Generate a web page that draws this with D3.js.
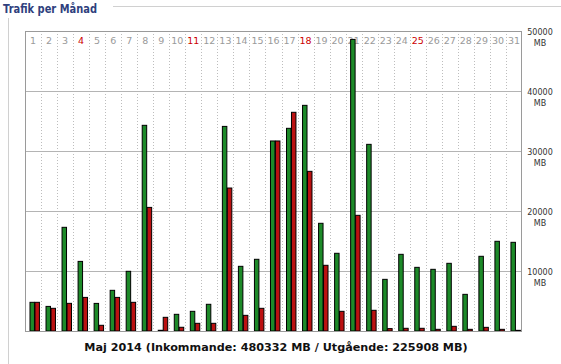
<!DOCTYPE html>
<html><head><meta charset="utf-8">
<script src="https://cdn.jsdelivr.net/npm/d3@7/dist/d3.min.js"></script>
<style>
html,body{margin:0;padding:0;background:#fff;}
svg{display:block;}
</style></head>
<body>
<script>
const days = d3.range(1, 32);
const redDays = [4, 11, 18, 25];
const incoming = [4780,4100,17280,11600,4600,6780,9950,34280,120,2780,3280,4450,34100,10780,11950,31670,33780,37610,17950,12950,48600,31110,8610,12780,10610,10280,11280,6110,12450,14950,14780];
const outgoing = [4780,3780,4610,5600,950,5600,4780,20600,2280,620,1280,1280,23830,2610,3780,31670,36450,26610,10950,3280,19280,3450,400,450,450,280,780,280,610,280,110];
const yTicks = [10000,20000,30000,40000,50000];
const title = "Trafik per Månad";
const caption = "Maj 2014 (Inkommande: 480332 MB / Utgående: 225908 MB)";

const W = 561, H = 364;
const L = 25, R = 522, T = 31, B = 331;
const svg = d3.select("body").append("svg").attr("width", W).attr("height", H);

// frame
svg.append("line").attr("x1", 113).attr("x2", W).attr("y1", 6.5).attr("y2", 6.5).attr("stroke", "#d0d0d0");
svg.append("line").attr("x1", 8.5).attr("x2", 8.5).attr("y1", 18).attr("y2", H).attr("stroke", "#d0d0d0");
svg.append("text").attr("x", 3).attr("y", 12.5).text(title)
  .attr("font-family", "DejaVu Sans, Verdana, sans-serif").attr("font-size", 11.5).attr("font-weight", "bold")
  .attr("textLength", 94).attr("lengthAdjust", "spacingAndGlyphs")
  .attr("fill", "#2f3f7d");

const x = d3.scaleBand().domain(days).range([L, R]).padding(0);
const bw = x.bandwidth();
const sub = d3.scaleBand().domain(["in", "out"]).range([bw * 0.28, bw * 0.9]).padding(0);
const y = d3.scaleLinear().domain([0, 50000]).range([B, T]);

// vertical dotted lines
svg.append("g").selectAll("line").data(days.slice(1)).join("line")
  .attr("x1", d => Math.round(x(d)) + 0.5).attr("x2", d => Math.round(x(d)) + 0.5)
  .attr("y1", T).attr("y2", B)
  .attr("stroke", "#bdbdbd").attr("stroke-dasharray", "1,2");

// horizontal gridlines
svg.append("g").selectAll("line").data(yTicks.slice(0, -1)).join("line")
  .attr("x1", L).attr("x2", R)
  .attr("y1", d => Math.round(y(d)) + 0.5).attr("y2", d => Math.round(y(d)) + 0.5)
  .attr("stroke", "#b4b4b4");

// day labels
svg.append("g").selectAll("text").data(days).join("text")
  .attr("x", d => x(d) + bw / 2).attr("y", 44)
  .attr("text-anchor", "middle")
  .attr("font-family", "DejaVu Sans, Verdana, sans-serif").attr("font-size", 9.5)
  .attr("fill", d => redDays.includes(d) ? "#cc0000" : "#9a9a9a")
  .text(d => d);

// bars
const data = days.map((d, i) => ({ d, inc: incoming[i], out: outgoing[i] }));
const gBars = svg.append("g");
gBars.selectAll("rect.in").data(data).join("rect").attr("class", "in")
  .attr("x", d => x(d.d) + sub("in") + 0.5).attr("width", sub.bandwidth() - 0.5)
  .attr("y", d => y(d.inc)).attr("height", d => B - y(d.inc))
  .attr("fill", "#1d8a29").attr("stroke", "#000").attr("stroke-width", 1);
gBars.selectAll("rect.out").data(data).join("rect").attr("class", "out")
  .attr("x", d => x(d.d) + sub("out") + 0.5).attr("width", sub.bandwidth() - 0.5)
  .attr("y", d => y(d.out)).attr("height", d => B - y(d.out))
  .attr("fill", "#bb1111").attr("stroke", "#000").attr("stroke-width", 1);

// plot border
svg.append("rect").attr("x", L + 0.5).attr("y", T + 0.5).attr("width", R - L - 1).attr("height", B - T)
  .attr("fill", "none").attr("stroke", "#9a9a9a");

// y labels
const yl = svg.append("g").selectAll("text").data(yTicks).join("text")
  .attr("x", 540).attr("y", d => y(d) + 3.5)
  .attr("text-anchor", "middle")
  .attr("font-family", "DejaVu Sans, Verdana, sans-serif").attr("font-size", 8)
  .attr("fill", "#333");
yl.append("tspan").attr("x", 540).text(d => d);
yl.append("tspan").attr("x", 540).attr("dy", 11).text("MB");

// caption
svg.append("text").attr("x", 276).attr("y", 350.5).attr("text-anchor", "middle")
  .attr("font-family", "DejaVu Sans, Verdana, sans-serif").attr("font-size", 11.2).attr("font-weight", "bold")
  .attr("fill", "#111").text(caption);
</script>
</body></html>
